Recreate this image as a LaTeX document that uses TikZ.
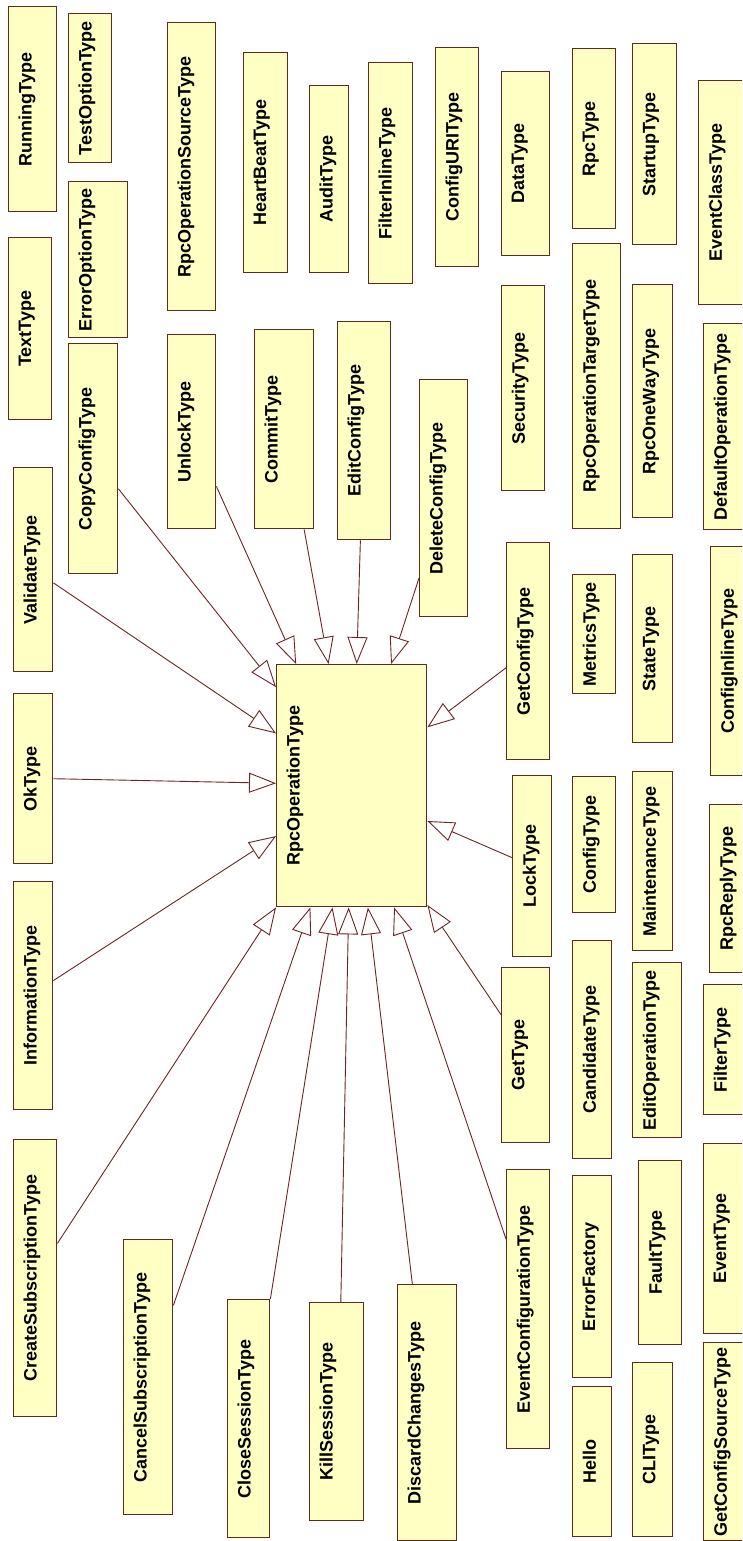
\documentclass[tikz,border=0pt]{standalone}
\usepackage{fontspec}
\setmainfont{Liberation Sans}
\usetikzlibrary{arrows.meta,calc}

\definecolor{clsfill}{RGB}{255,255,196}
\definecolor{clsline}{RGB}{100,40,24}
\definecolor{linkline}{RGB}{110,36,36}

% one class box: name, x1, y1, x2, y2, title (title reads bottom to top)
\newcommand{\cls}[6]{%
  \node[clsbox, anchor=north west,
        minimum width={(#4-#2)*1pt}, minimum height={(#5-#3)*1pt}] (#1) at (#2,#3) {};
  \node[clstitle] (#1-t) at ([xshift=10.5pt]#1.west) {#6};
}

\begin{document}
\begin{tikzpicture}[x=1pt, y=-1pt,
  clsbox/.style={draw=clsline, fill=clsfill, line width=1.4pt, inner sep=0pt, rectangle},
  clstitle/.style={rotate=90, anchor=north, inner sep=0pt,
                   font=\fontsize{18}{20}\selectfont\bfseries, text=black},
  gen/.style={draw=linkline, line width=0.9pt,
              -{Triangle[length=27pt, width=20pt, fill=white, line width=0.9pt]}}
]
\useasboundingbox (0,0) rectangle (742,1541);
\fill[white] (0,0) rectangle (742,1541);
\clip (0,0) rectangle (742,1541);

% first column
\cls{running}{8}{6}{56}{211}{RunningType}
\cls{text}{8}{237}{51}{419}{TextType}
\cls{validate}{13}{467}{52}{671}{ValidateType}
\cls{ok}{13}{693}{52}{863}{OkType}
\cls{information}{13}{881}{52}{1109}{InformationType}
\cls{createsub}{13}{1139}{56}{1416}{CreateSubscriptionType}

% second column
\cls{testoption}{68}{13}{111}{162}{TestOptionType}
\cls{erroroption}{68}{181}{127}{337}{ErrorOptionType}
\cls{copyconfig}{68}{343}{117}{573}{CopyConfigType}
\cls{cancelsub}{123}{1239}{172}{1514}{CancelSubscriptionType}

% third column
\cls{rpcopsource}{167}{22}{215}{310}{RpcOperationSourceType}
\cls{unlock}{167}{334}{215}{528}{UnlockType}
\cls{closesession}{227}{1299}{269}{1537}{CloseSessionType}

% fourth column
\cls{heartbeat}{243}{52}{287}{272}{HeartBeatType}
\cls{commit}{254}{329}{313}{528}{CommitType}
\cls{audit}{309}{85}{348}{272}{AuditType}
\cls{killsession}{309}{1302}{363}{1520}{KillSessionType}
\cls{editconfig}{337}{321}{390}{539}{EditConfigType}
\cls{filterinline}{368}{62}{412}{283}{FilterInlineType}
\cls{discard}{397}{1284}{456}{1540}{DiscardChangesType}
\cls{deleteconfig}{419}{379}{467}{616}{DeleteConfigType}
\cls{configuri}{435}{47}{478}{266}{ConfigURIType}

% central class
\cls{rpcop}{276}{664}{426}{906}{RpcOperationType}

% fifth column
\cls{data}{501}{71}{549}{255}{DataType}
\cls{security}{501}{285}{544}{490}{SecurityType}
\cls{getconfig}{506}{542}{549}{759}{GetConfigType}
\cls{lock}{512}{775}{551}{956}{LockType}
\cls{get}{501}{967}{549}{1142}{GetType}
\cls{eventconf}{506}{1169}{549}{1448}{EventConfigurationType}

% sixth column
\cls{rpc}{572}{48}{615}{228}{RpcType}
\cls{rpcoptarget}{572}{243}{620}{528}{RpcOperationTargetType}
\cls{metrics}{572}{574}{615}{693}{MetricsType}
\cls{config}{572}{776}{615}{912}{ConfigType}
\cls{candidate}{572}{940}{611}{1158}{CandidateType}
\cls{errorfactory}{572}{1175}{611}{1377}{ErrorFactory}
\cls{hello}{572}{1386}{611}{1536}{Hello}

% seventh column
\cls{startup}{632}{43}{676}{244}{StartupType}
\cls{rpconeway}{632}{284}{672}{517}{RpcOneWayType}
\cls{state}{632}{554}{672}{742}{StateType}
\cls{maintenance}{632}{771}{672}{950}{MaintenanceType}
\cls{editoperation}{632}{962}{681}{1137}{EditOperationType}
\cls{fault}{638}{1160}{681}{1344}{FaultType}
\cls{cli}{632}{1362}{672}{1536}{CLIType}

% last column, running past the right edge
\cls{eventclass}{698}{80}{760}{304}{EventClassType}
\cls{defaultop}{703}{323}{760}{529}{DefaultOperationType}
\cls{configinline}{710}{546}{760}{775}{ConfigInlineType}
\cls{rpcreply}{709}{804}{760}{972}{RpcReplyType}
\cls{filter}{703}{984}{760}{1114}{FilterType}
\cls{event}{703}{1143}{760}{1333}{EventType}
\cls{getconfigsource}{703}{1342}{760}{1540}{GetConfigSourceType}

% generalisations into RpcOperationType
\draw[gen] ($(copyconfig.north east)!0.63!(copyconfig.south east)$) -- ($(rpcop.north west)!0.095!(rpcop.south west)$);
\draw[gen] ($(validate.north east)!0.564!(validate.south east)$) -- ($(rpcop.north west)!0.285!(rpcop.south west)$);
\draw[gen] ($(unlock.north east)!0.78!(unlock.south east)$) -- ($(rpcop.north west)!0.133!(rpcop.north east)$);
\draw[gen] ($(commit.south west)!0.83!(commit.south east)$) -- ($(rpcop.north west)!0.347!(rpcop.north east)$);
\draw[gen] ($(editconfig.south west)!0.43!(editconfig.south east)$) -- ($(rpcop.north west)!0.533!(rpcop.north east)$);
\draw[gen] ($(deleteconfig.north west)!0.835!(deleteconfig.south west)$) -- ($(rpcop.north west)!0.76!(rpcop.north east)$);
\draw[gen] ($(getconfig.north west)!0.576!(getconfig.south west)$) -- ($(rpcop.north east)!0.26!(rpcop.south east)$);
\draw[gen] ($(ok.north east)!0.5!(ok.south east)$) -- ($(rpcop.north west)!0.49!(rpcop.south west)$);
\draw[gen] ($(information.north east)!0.434!(information.south east)$) -- ($(rpcop.north west)!0.707!(rpcop.south west)$);
\draw[gen] ($(lock.north west)!0.453!(lock.south west)$) -- ($(rpcop.north east)!0.645!(rpcop.south east)$);
\draw[gen] ($(get.north west)!0.27!(get.south west)$) -- ($(rpcop.north east)!0.99!(rpcop.south east)$);
\draw[gen] ($(createsub.north east)!0.375!(createsub.south east)$) -- (rpcop.south west);
\draw[gen] ($(cancelsub.north east)!0.24!(cancelsub.south east)$) -- ($(rpcop.south west)!0.227!(rpcop.south east)$);
\draw[gen] (closesession.north east) -- ($(rpcop.south west)!0.373!(rpcop.south east)$);
\draw[gen] ($(killsession.north west)!0.574!(killsession.north east)$) -- ($(rpcop.south west)!0.48!(rpcop.south east)$);
\draw[gen] ($(discard.north west)!0.254!(discard.north east)$) -- ($(rpcop.south west)!0.607!(rpcop.south east)$);
\draw[gen] ($(eventconf.north west)!0.25!(eventconf.south west)$) -- ($(rpcop.south west)!0.78!(rpcop.south east)$);
\end{tikzpicture}
\end{document}
